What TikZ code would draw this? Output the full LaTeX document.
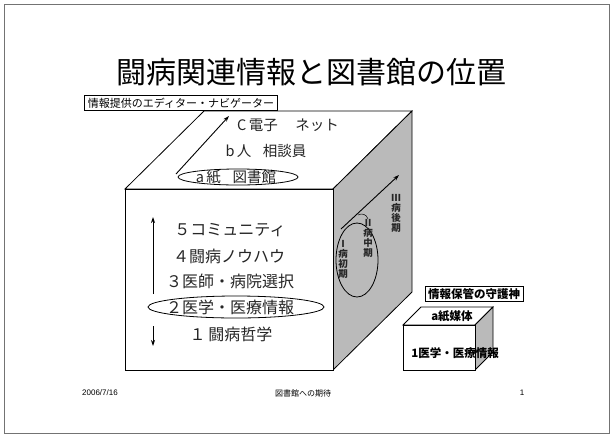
\documentclass[tikz,border=0pt]{standalone}
\usepackage{fontspec}
\setmainfont{Liberation Sans}
\newfontfamily\jp{Noto Sans CJK JP}
\usetikzlibrary{arrows.meta,shapes.geometric}
\tikzset{
  edge/.style={draw=black, line width=0.8pt},
  arr/.style={draw=black, line width=0.9pt, -{Stealth[length=6pt,width=4pt]}},
  boxlbl/.style={draw=black, line width=0.8pt, fill=white, inner xsep=3pt, inner ysep=2pt},
  ttl/.style={font=\jp\fontsize{30}{32}\selectfont},
  toptxt/.style={font=\jp\fontsize{14.5}{16}\selectfont, text=black!85},
  fronttxt/.style={font=\jp\fontsize{16}{18}\selectfont, text=black!85},
  vtxt/.style={font=\jp\bfseries\fontsize{9.5}{10}\selectfont, align=center, inner sep=0pt, text=black!85},
  smalltxt/.style={font=\jp\bfseries\fontsize{11.5}{13}\selectfont},
  foot/.style={font=\fontsize{8}{9}\selectfont},
  ring/.style={ellipse, draw=black, line width=0.8pt, inner sep=0pt},
  sideface/.style={fill=black!27, draw=black, line width=0.8pt}
}
\begin{document}
\begin{tikzpicture}[x=1pt,y=-1pt]
\useasboundingbox (0,0) rectangle (613,437);
% slide frame
\draw[black!55, line width=0.8pt] (4,4) rectangle (609,433);

% title
\node[ttl] (title) at (311,72) {闘病関連情報と図書館の位置};

% ---- big cube ----
\coordinate (FTL) at (125,189);
\coordinate (FTR) at (333,189);
\coordinate (FBR) at (333,370);
\coordinate (FBL) at (125,370);
\coordinate (BTL) at (204,111);
\coordinate (BTR) at (412,111);
\coordinate (BBR) at (412,292);
\path[fill=white, edge] (FTL) -- (BTL) -- (BTR) -- (FTR) -- cycle;
\path[sideface] (FTR) -- (BTR) -- (BBR) -- (FBR) -- cycle;
\path[fill=white, edge] (FTL) rectangle (FBR);

% top face contents
\node[toptxt] (c) at (288,125) {C\,電子\hspace{1.2em}ネット};
\node[toptxt] (b) at (266,151) {b\,人\hspace{0.8em}相談員};
\node[toptxt] (a) at (236,177) {a\,紙\hspace{0.8em}図書館};
\node[ring, minimum width=120pt, minimum height=16pt] (aring) at (238,177) {};
\coordinate (topS) at (176,174);
\coordinate (topE) at (229,116);
\draw[arr] (topS) -- (topE);

% label box
\node[boxlbl, font=\jp\fontsize{11}{12}\selectfont] (editor) at (181,103) {情報提供のエディター・ナビゲーター};

% front face contents
\node[fronttxt] (f5) at (230,230) {５コミュニティ};
\node[fronttxt] (f4) at (229,256) {４闘病ノウハウ};
\node[fronttxt] (f3) at (230,281) {３医師・病院選択};
\node[fronttxt] (f2) at (230,307) {２医学・医療情報};
\node[ring, minimum width=176pt, minimum height=22pt] (f2ring) at (236,307) {};
\node[fronttxt] (f1) at (231,334) {１\,闘病哲学};
\coordinate (upS) at (153,294);
\coordinate (upE) at (153,217);
\coordinate (dnS) at (153,326);
\coordinate (dnE) at (153,346);
\draw[arr] (upS) -- (upE);
\draw[arr] (dnS) -- (dnE);

% side face contents
\node[ring, minimum width=42pt, minimum height=74pt] (sring) at (357,260) {};
\coordinate (sS) at (341,229);
\coordinate (sE) at (399,175);
\draw[arr] (sS) -- (sE);
\node[vtxt] (p1) at (343,259) {Ⅰ\\病\\初\\期};
\node[vtxt] (p2) at (368,238) {Ⅱ\\病\\中\\期};
\node[vtxt] (p3) at (396,213) {Ⅲ\\病\\後\\期};
\coordinate (callS) at (358,215);
\draw[black, line width=0.5pt] (callS) .. controls (362,213) and (366,214) .. (p2.north);

% ---- small cube ----
\coordinate (sFTL) at (403,325);
\coordinate (sFTR) at (475,325);
\coordinate (sFBR) at (475,370);
\coordinate (sFBL) at (403,370);
\coordinate (sBTL) at (421,307);
\coordinate (sBTR) at (493,307);
\coordinate (sBBR) at (493,352);
\path[fill=white, edge] (sFTL) -- (sBTL) -- (sBTR) -- (sFTR) -- cycle;
\path[sideface] (sFTR) -- (sBTR) -- (sBBR) -- (sFBR) -- cycle;
\path[fill=white, edge] (sFTL) rectangle (sFBR);
\node[boxlbl, font=\jp\bfseries\fontsize{11.5}{13}\selectfont] (guard) at (474,294) {情報保管の守護神};
\node[smalltxt] (sa) at (452,316) {a紙媒体};
\node[smalltxt] (s1) at (455,353) {1医学・医療情報};

% footer
\node[foot] (date) at (100,393) {2006/7/16};
\node[foot, font=\jp\fontsize{8}{9}\selectfont] (mid) at (303,393) {図書館への期待};
\node[foot] (page) at (522,393) {1};
\end{tikzpicture}
\end{document}
